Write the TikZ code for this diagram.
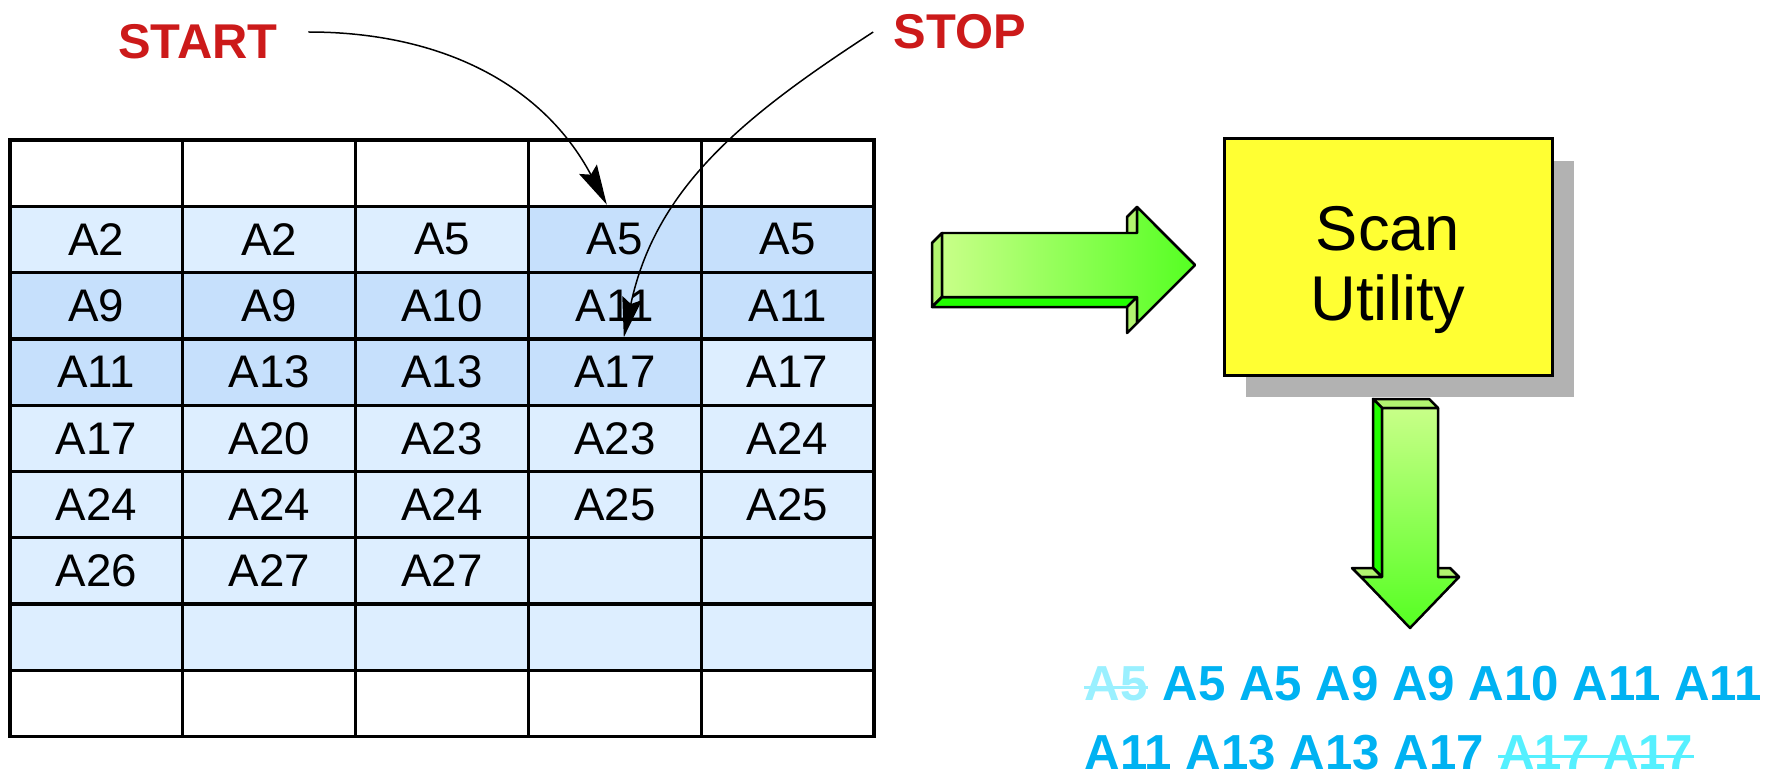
\documentclass[tikz,border=0pt]{standalone}
\usepackage{fontspec}
\setmainfont{Liberation Sans}
\usetikzlibrary{arrows.meta,shadows,positioning}

\definecolor{cellpale}{HTML}{DDEEFF}
\definecolor{cellblue}{HTML}{C6E0FC}
\definecolor{limitred}{HTML}{CC1A1A}
\definecolor{listblue}{HTML}{00B2F2}
\definecolor{droppale}{HTML}{9AF0FF}
\definecolor{dropcyan}{HTML}{55F0FF}
\definecolor{boxyellow}{HTML}{FFFF33}
\definecolor{greenlight}{HTML}{C8FF88}
\definecolor{greendeep}{HTML}{55FF22}
\definecolor{greenside}{HTML}{22FF00}
\definecolor{greenface}{HTML}{B2F470}

\begin{document}
\begin{tikzpicture}[x=0.1mm,y=0.1mm,>={Stealth[length=4mm,width=2mm,inset=0.6mm]}]
    \tikzstyle{cell}=[rectangle,draw=black,line width=0.33mm,minimum width=17.28mm,minimum height=6.63mm,inner sep=0pt,font=\fontsize{13}{15}\selectfont]
    \tikzstyle{wt}=[fill=white]
    \tikzstyle{lo}=[fill=cellpale]
    \tikzstyle{hi}=[fill=cellblue]
    \tikzstyle{limitlabel}=[inner sep=0pt,text=limitred,font=\bfseries\fontsize{13.9}{16}\selectfont]
    \tikzstyle{pointer}=[->,line width=0.15mm]
    \tikzstyle{block}=[draw=black,line width=0.25mm,line join=round]
    \tikzstyle{utility}=[draw=black,line width=0.3mm,fill=boxyellow,minimum width=32.8mm,minimum height=23.6mm,align=center,font=\fontsize{18}{20}\selectfont,drop shadow={shadow xshift=2.2mm,shadow yshift=-2.2mm,fill=black!30,opacity=1}]
    \tikzstyle{result}=[anchor=base west,inner sep=0pt,text=listblue,font=\bfseries\fontsize{14}{20}\selectfont]
    \tikzstyle{strike}=[line width=0.85pt]

    \useasboundingbox (0,0) rectangle (1771,-776);

    % index pages, one row per line
    \foreach \r/\cells in {0/{/wt,/wt,/wt,/wt,/wt},
                           1/{A2/lo,A2/lo,A5/lo,A5/hi,A5/hi},
                           2/{A9/hi,A9/hi,A10/hi,A11/hi,A11/hi},
                           3/{A11/hi,A13/hi,A13/hi,A17/hi,A17/lo},
                           4/{A17/lo,A20/lo,A23/lo,A23/lo,A24/lo},
                           5/{A24/lo,A24/lo,A24/lo,A25/lo,A25/lo},
                           6/{A26/lo,A27/lo,A27/lo,/lo,/lo},
                           7/{/lo,/lo,/lo,/lo,/lo},
                           8/{/wt,/wt,/wt,/wt,/wt}}
        \foreach \lab/\fc [count=\c] in \cells
            \node[cell,\fc] (r\r-\c) at (172.8*\c-76.4,-173.15-66.3*\r) {\lab};

    \node[limitlabel] (start) at (198,-42) {START};
    \node[limitlabel] (stop)  at (960,-32) {STOP};
    \draw[pointer] ([shift={(3mm,1mm)}]start.east) to[out=0,in=118] ([xshift=-0.8mm]r1-4.north);
    \draw[pointer] ([xshift=-2mm]stop.west) to[out=213,in=78] ([xshift=0.9mm]r3-4.north);

    \node[utility] (scan) at (1388,-257) {\rule{0pt}{20pt}Scan\\Utility};

    % 3d arrow into the utility
    \filldraw[block,fill=greenface] (942,-233) -- (942,-297) -- (932,-307) -- (932,-243) -- cycle;
    \filldraw[block,fill=greenside] (942,-297) -- (1137,-297) -- (1127,-307) -- (932,-307) -- cycle;
    \filldraw[block,fill=greenface] (1137,-233) -- (1137,-207) -- (1127,-217) -- (1127,-243) -- cycle;
    \filldraw[block,fill=greenface] (1137,-297) -- (1137,-323) -- (1127,-333) -- (1127,-307) -- cycle;
    \filldraw[block,left color=greenlight,right color=greendeep] (942,-233) -- (1137,-233) -- (1137,-207) -- (1195,-265)
        -- (1137,-323) -- (1137,-297) -- (942,-297) -- cycle;

    % 3d arrow out of it
    \filldraw[block,fill=greenface] (1382,-408) -- (1438,-408) -- (1429,-399) -- (1373,-399) -- cycle;
    \filldraw[block,fill=greenside] (1382,-408) -- (1382,-577) -- (1373,-568) -- (1373,-399) -- cycle;
    \filldraw[block,fill=greenface] (1361,-577) -- (1382,-577) -- (1373,-568) -- (1352,-568) -- cycle;
    \filldraw[block,fill=greenface] (1438,-577) -- (1459,-577) -- (1450,-568) -- (1429,-568) -- cycle;
    \filldraw[block,top color=greenlight,bottom color=greendeep] (1382,-408) -- (1438,-408) -- (1438,-577) -- (1459,-577)
        -- (1410,-628) -- (1361,-577) -- (1382,-577) -- cycle;

    % what the scan returns, dropped entries struck out
    \node[result,text=droppale] (gone1) at (1084,-700) {A5};
    \node[result] (list1) at ([xshift=3.9pt]gone1.base east) {A5 A5 A9 A9 A10 A11 A11};
    \node[result] (list2) [below=6.9mm of gone1.base west,anchor=base west] {A11 A13 A13 A17};
    \node[result,text=dropcyan] (gone2) at ([xshift=3.9pt]list2.base east) {A17 A17};
    \draw[strike,droppale] ([yshift=1.3mm]gone1.base west) -- ([yshift=1.3mm]gone1.base east);
    \draw[strike,dropcyan] ([yshift=1.3mm]gone2.base west) -- ([yshift=1.3mm]gone2.base east);
\end{tikzpicture}
\end{document}
